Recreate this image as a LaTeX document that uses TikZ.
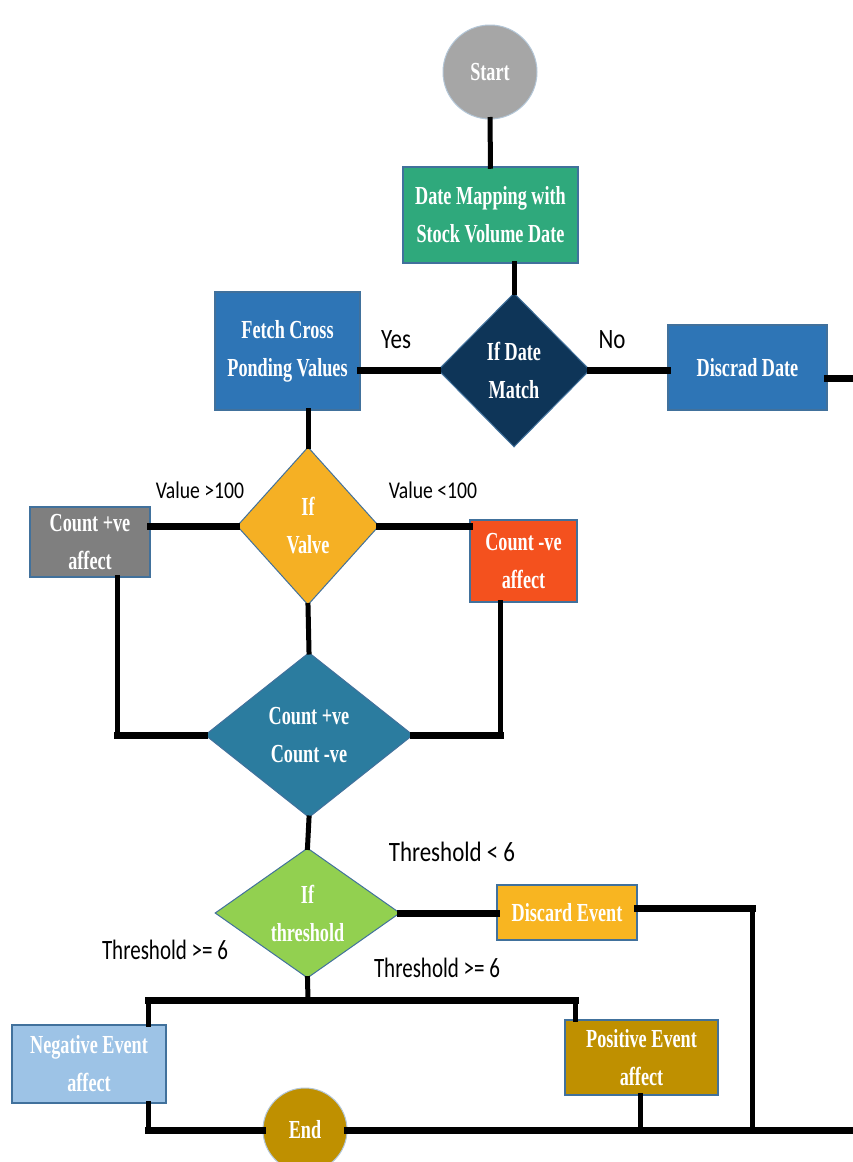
\documentclass[tikz,border=0pt]{standalone}
\usepackage{fontspec}
\usetikzlibrary{shapes.geometric}
\newfontfamily\boxfont{Liberation Serif}[FakeStretch=0.70]
\newfontfamily\lblfont{Carlito}[FakeStretch=0.82]
\newfontfamily\lblnarrow{Carlito}[FakeStretch=0.75]

\definecolor{cStart}{HTML}{A6A6A6}
\definecolor{cMap}{HTML}{2FA97C}
\definecolor{cNavy}{HTML}{0E3558}
\definecolor{cBlue}{HTML}{2E75B6}
\definecolor{cAmber}{HTML}{F5B024}
\definecolor{cGrey}{HTML}{7F7F7F}
\definecolor{cRed}{HTML}{F4511E}
\definecolor{cTeal}{HTML}{2B7C9F}
\definecolor{cLime}{HTML}{92D050}
\definecolor{cGold}{HTML}{F8B521}
\definecolor{cSky}{HTML}{9DC3E6}
\definecolor{cOchre}{HTML}{BF9000}
\definecolor{cEdge}{HTML}{41719C}

\tikzset{
  txt/.style={text=white, align=center,
    font=\boxfont\bfseries\fontsize{26}{38}\selectfont},
  procbox/.style={txt, rectangle, draw=cEdge, line width=1.5pt, inner sep=0pt},
  decision/.style={txt, diamond, draw=cEdge, line width=1pt, inner sep=0pt},
  terminal/.style={txt, circle, draw=cEdge!40, line width=1pt, inner sep=0pt},
  lbl/.style={font=\lblfont\fontsize{28}{30}\selectfont, inner sep=0pt},
  glbl/.style={font=\lblnarrow\fontsize{28}{30}\selectfont, inner sep=0pt},
  vlbl/.style={font=\lblfont\fontsize{24}{26}\selectfont, inner sep=0pt},
  vl/.style={draw=black, line width=5pt, line cap=rect},
  hl/.style={draw=black, line width=7pt, line cap=rect},
}

\begin{document}
\begin{tikzpicture}[x=1pt, y=-1pt]
\path[use as bounding box, fill=white] (0,0) rectangle (852,1162);

% ---- nodes ----
\node[terminal, fill=cStart, minimum size=94pt] (start) at (490,72) {Start};
\node[procbox, fill=cMap, minimum width=175pt, minimum height=96pt] (dm) at (490.5,215)
  {Date Mapping with\\Stock Volume Date};
\node[decision, fill=cNavy, minimum width=152pt, minimum height=154pt] (ifd) at (514,370)
  {If Date\\Match};
\node[procbox, fill=cBlue, minimum width=159pt, minimum height=85pt] (disc) at (747.5,367.5)
  {Discrad Date};
\node[procbox, fill=cBlue, minimum width=145pt, minimum height=118pt] (fetch) at (287.5,351)
  {Fetch Cross\\Ponding Values};
\node[decision, fill=cAmber, minimum width=142pt, minimum height=158pt] (valve) at (308,526)
  {If\\Valve};
\node[procbox, fill=cGrey, minimum width=120pt, minimum height=70pt] (cpos) at (90,542)
  {Count +ve\\affect};
\node[procbox, fill=cRed, minimum width=107pt, minimum height=82pt] (cneg) at (523.5,561)
  {Count -ve\\affect};
\node[decision, fill=cTeal, minimum width=208pt, minimum height=165pt] (count) at (309,735)
  {Count +ve\\Count -ve};
\node[decision, fill=cLime, minimum width=185pt, minimum height=127pt] (thr) at (307.5,913)
  {If\\threshold};
\node[procbox, fill=cGold, minimum width=140pt, minimum height=55pt] (disce) at (567,912.5)
  {Discard Event};
\node[procbox, fill=cSky, minimum width=154pt, minimum height=78pt] (neg) at (89,1064)
  {Negative Event\\affect};
\node[procbox, fill=cOchre, minimum width=153pt, minimum height=75pt] (pos) at (641.5,1057.5)
  {Positive Event\\affect};
\node[terminal, fill=cOchre, minimum size=84pt] (end) at (305,1130) {End};

% ---- edge labels ----
\node[lbl] (yes) at (396,340) {Yes};
\node[lbl] (no) at (612,340) {No};
\node[vlbl] (vgt) at (200,490) {Value >100};
\node[vlbl] (vlt) at (433,490) {Value <100};
\node[lbl] (tlt) at (452,852) {Threshold < 6};
\node[glbl] (tge1) at (165,950) {Threshold >= 6};
\node[glbl] (tge2) at (437,968) {Threshold >= 6};

% ---- junction points ----
\coordinate (rimA) at (852,378);
\coordinate (kpL) at (117,735);
\coordinate (kpR) at (500,735);
\coordinate (split) at (308,1000);
\coordinate (spL) at (148,1000);
\coordinate (spR) at (575,1000);
\coordinate (joinL) at (148,1130);
\coordinate (joinD) at (752,908);
\coordinate (busD) at (752,1130);
\coordinate (busP) at (640,1130);
\coordinate (rimB) at (852,1130);

% ---- connectors ----
\draw[vl] (start) -- (dm);
\draw[vl] (dm.south -| ifd.north) -- (ifd.north);
\draw[hl] (ifd.west) -- (ifd.west -| fetch.east);
\draw[hl] (ifd.east) -- (ifd.east -| disc.west);
\draw[hl] (disc.east |- rimA) -- (rimA);
\draw[vl] (fetch.south -| valve.north) -- (valve.north);
\draw[hl] (valve.west) -- (valve.west -| cpos.east);
\draw[hl] (valve.east) -- (valve.east -| cneg.west);
\draw[vl] (cpos.south -| kpL) -- (kpL);
\draw[hl] (kpL) -- (count.west);
\draw[vl] (cneg.south -| kpR) -- (kpR);
\draw[hl] (kpR) -- (count.east);
\draw[vl] (valve.south) -- (count.north);
\draw[vl] (count.south) -- (thr.north);
\draw[hl] (thr.east) -- (thr.east -| disce.west);
\draw[hl] (disce.east |- joinD) -- (joinD);
\draw[vl] (joinD) -- (busD);
\draw[vl] (thr.south) -- (split);
\draw[hl] (spL) -- (spR);
\draw[vl] (spL) -- (neg.north -| spL);
\draw[vl] (spR) -- (pos.north -| spR);
\draw[vl] (neg.south -| joinL) -- (joinL);
\draw[hl] (joinL) -- (end.west);
\draw[hl] (end.east) -- (rimB);
\draw[vl] (pos.south -| busP) -- (busP);
\end{tikzpicture}
\end{document}
